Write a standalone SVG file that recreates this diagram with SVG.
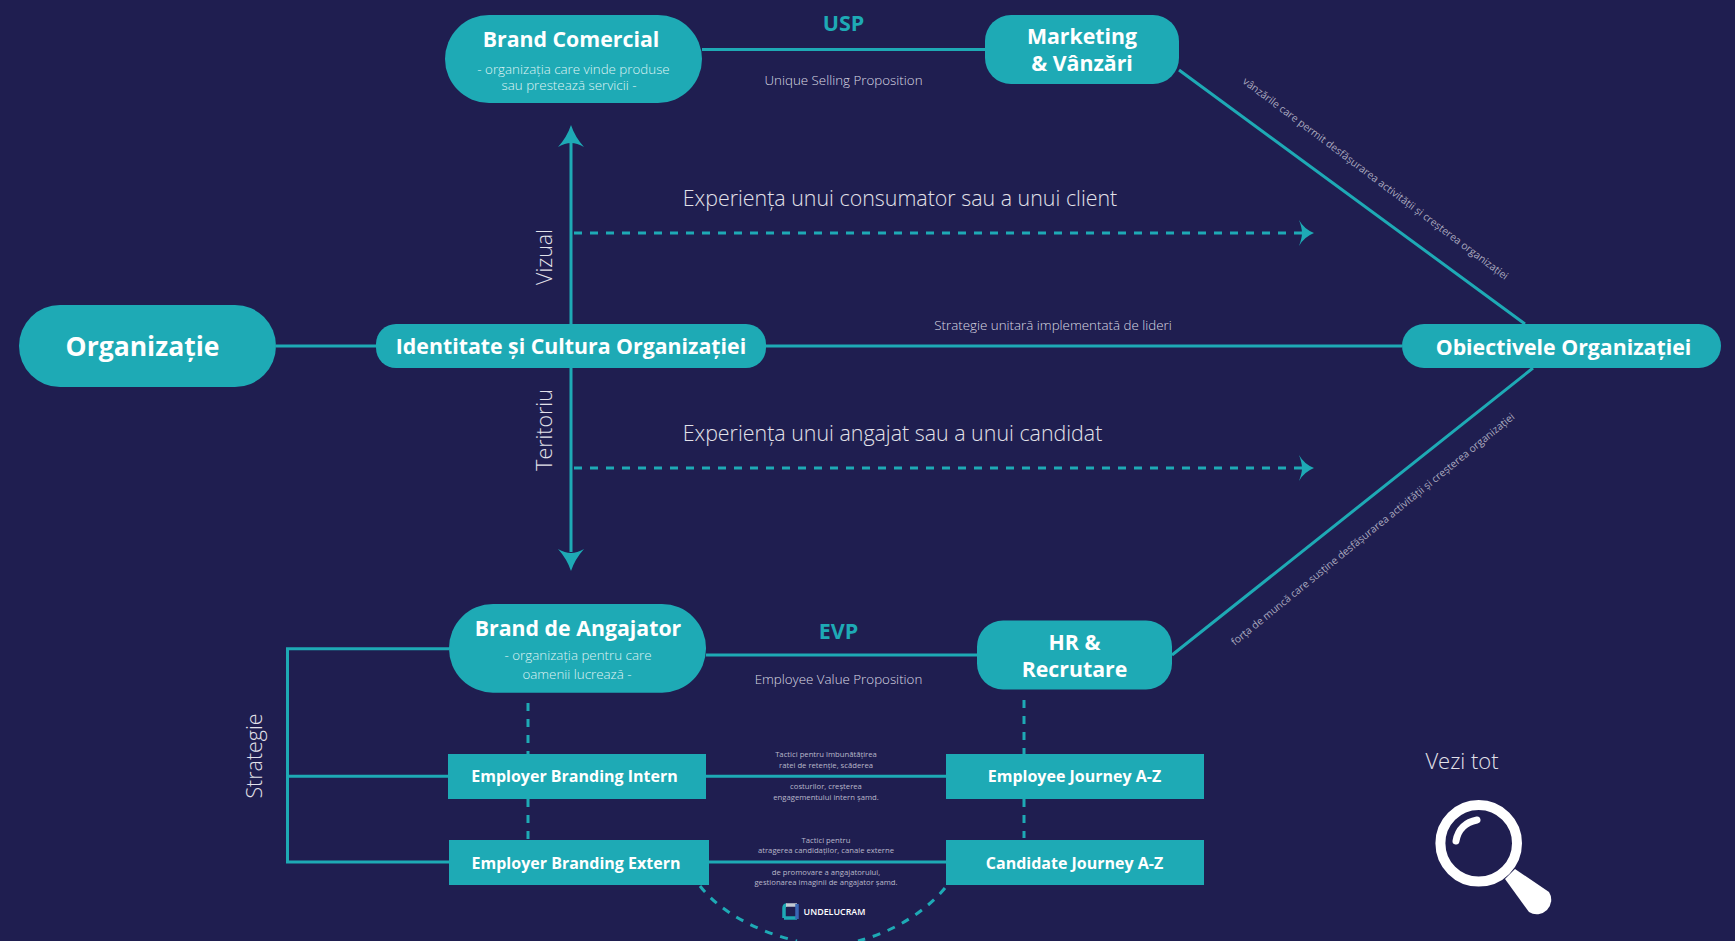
<svg xmlns="http://www.w3.org/2000/svg" width="1735" height="941" viewBox="0 0 1735 941">
<style>
text{font-family:"Open Sans","Noto Sans","Liberation Sans",sans-serif;text-anchor:middle}
.n{fill:#1eaab5}
.t{fill:#fff;font-weight:700;font-size:21.300px}
.b{fill:#fff;font-weight:700;font-size:16px}
.c{fill:none;stroke:#1eaab5;stroke-width:3}
.d{fill:none;stroke:#1eaab5;stroke-width:3;stroke-dasharray:8 8}
.a{fill:#1eaab5}
.l{fill:#e3e2ea;font-weight:300}
.m{fill:#d9d8e2;font-weight:300;font-size:13.350px}
.p{fill:#dff3f4;font-weight:300;font-size:13.350px}
.s{fill:#b9b8ca;font-size:7.700px}
.v{fill:#a9a8be;font-size:10.300px}
</style>
<rect width="1735" height="941" fill="#1f1e50"/>
<g id="connectors">
<path class="c" d="M276 346H376M766 346H1402M702 49.500H985M706 655H977M1179 70L1525 324M1172 655L1533 368"/>
<path class="c" d="M571 324V140M571 368V552"/>
<path class="a" d="M571 125Q575 137 584 147Q577 143 571 143Q565 143 558 147Q567 137 571 125Z"/>
<path class="a" d="M571 571Q567 559 558 549Q565 553 571 553Q577 553 584 549Q575 559 571 571Z"/>
<path class="d" d="M574 233H1302M574 468H1302"/>
<path class="a" d="M1314 233Q1304 229 1299 220Q1302 228 1302 233Q1302 238 1299 246Q1304 237 1314 233Z"/>
<path class="a" d="M1314 468Q1304 464 1299 455Q1302 463 1302 468Q1302 473 1299 481Q1304 472 1314 468Z"/>
<path class="c" d="M449 648.700H287.500V862H449M287.500 776.300H448M706 776.300H946M709 862H946"/>
<path class="d" d="M528 703V754M528 799V840M1024 700V754M1024 799V838"/>
<path class="d" d="M700 886C720 912 758 932 797 941M945 888C925 912 893 932 858 941"/>
</g>
<g id="organizatie"><rect class="n" x="19" y="305" width="257" height="82" rx="41"/><text x="142.500" y="356" font-size="26.500" font-weight="700" fill="#fff">Organizație</text></g>
<g id="brand-comercial"><rect class="n" x="445" y="15" width="257" height="88" rx="44"/><text class="t" x="571" y="47">Brand Comercial</text><text class="p" x="573.500" y="74">- organizația care vinde produse</text><text class="p" x="569" y="90">sau prestează servicii -</text></g>
<g id="marketing"><rect class="n" x="985" y="15" width="194" height="69" rx="26"/><text class="t" x="1082" y="44">Marketing</text><text class="t" x="1082" y="71">&amp; Vânzări</text></g>
<g id="identitate"><rect class="n" x="376" y="324" width="390" height="44" rx="20"/><text class="t" x="571" y="354">Identitate și Cultura Organizației</text></g>
<g id="obiective"><rect class="n" x="1402" y="324" width="319" height="44" rx="22"/><text class="t" x="1563.500" y="355">Obiectivele Organizației</text></g>
<g id="brand-angajator"><rect class="n" x="449" y="604" width="257" height="88.700" rx="44"/><text class="t" x="578" y="635.700">Brand de Angajator</text><text class="p" x="578" y="660">- organizația pentru care</text><text class="p" x="577" y="679">oamenii lucrează -</text></g>
<g id="hr"><rect class="n" x="977" y="620.500" width="195" height="69" rx="26"/><text class="t" x="1074.500" y="650">HR &amp;</text><text class="t" x="1074.500" y="677">Recrutare</text></g>
<g id="eb-intern"><rect class="n" x="448" y="754" width="258" height="45"/><text class="b" x="574.500" y="782">Employer Branding Intern</text></g>
<g id="eb-extern"><rect class="n" x="449" y="840" width="260" height="45"/><text class="b" x="576" y="869">Employer Branding Extern</text></g>
<g id="employee-journey"><rect class="n" x="946" y="754" width="258" height="45"/><text class="b" x="1074.500" y="782">Employee Journey A-Z</text></g>
<g id="candidate-journey"><rect class="n" x="946" y="840" width="258" height="45"/><text class="b" x="1074.500" y="869">Candidate Journey A-Z</text></g>
<g id="labels">
<text x="843.500" y="31" font-size="21.500" font-weight="700" fill="#1eaab5">USP</text>
<text class="m" x="843.500" y="85">Unique Selling Proposition</text>
<text class="l" x="900" y="206" font-size="21.400">Experiența unui consumator sau a unui client</text>
<text class="m" x="1053" y="329.500">Strategie unitară implementată de lideri</text>
<text class="l" x="892.500" y="441" font-size="21.400">Experiența unui angajat sau a unui candidat</text>
<text x="838.500" y="639" font-size="21.500" font-weight="700" fill="#1eaab5">EVP</text>
<text class="m" x="838.500" y="683.500">Employee Value Proposition</text>
<text class="l" font-size="21.400" transform="translate(552 257) rotate(-90)">Vizual</text>
<text class="l" font-size="21.400" transform="translate(552 430) rotate(-90)">Teritoriu</text>
<text class="l" font-size="21.400" transform="translate(262 756) rotate(-90)">Strategie</text>
<text class="v" transform="translate(1373.500 181.500) rotate(36.900)">vânzările care permit desfășurarea activității și creșterea organizației</text>
<text class="v" transform="translate(1375 532) rotate(-39.100)">forța de muncă care susține desfășurarea activității și creșterea organizației</text>
<text class="s" x="826" y="756.500">Tactici pentru îmbunătățirea</text>
<text class="s" x="826" y="767.500">ratei de retenție, scăderea</text>
<text class="s" x="826" y="788.500">costurilor, creșterea</text>
<text class="s" x="826" y="799.500">engagementului intern șamd.</text>
<text class="s" x="826" y="842.500">Tactici pentru</text>
<text class="s" x="826" y="852.500">atragerea candidaților, canale externe</text>
<text class="s" x="826" y="874.500">de promovare a angajatorului,</text>
<text class="s" x="826" y="884.500">gestionarea imaginii de angajator șamd.</text>
<text class="l" x="1462" y="769" font-size="22">Vezi tot</text>
</g>
<g id="undelucram"><path d="M784 918V908Q784 905 787 905" fill="none" stroke="#1eaab5" stroke-width="3.500"/><path d="M784 918H797" fill="none" stroke="#1eaab5" stroke-width="3.500"/><path d="M786 905H797" fill="none" stroke="#c3cad3" stroke-width="3.500"/><path d="M797 904V919" stroke="#3a66b5" stroke-width="3.500"/><text x="834.500" y="915" font-size="8.900" font-weight="600" fill="#fff">UNDELUCRAM</text></g>
<g id="vezi-tot"><circle cx="1478.700" cy="843.300" r="38.300" fill="none" stroke="#fff" stroke-width="10"/><path d="M1456 841C1458 829 1466 822 1477 820" fill="none" stroke="#fff" stroke-width="7" stroke-linecap="round"/><path d="M1515 869L1549 892A14.500 14.500 0 0 1 1529 912L1505 879Z" fill="#fff"/></g>
</svg>
